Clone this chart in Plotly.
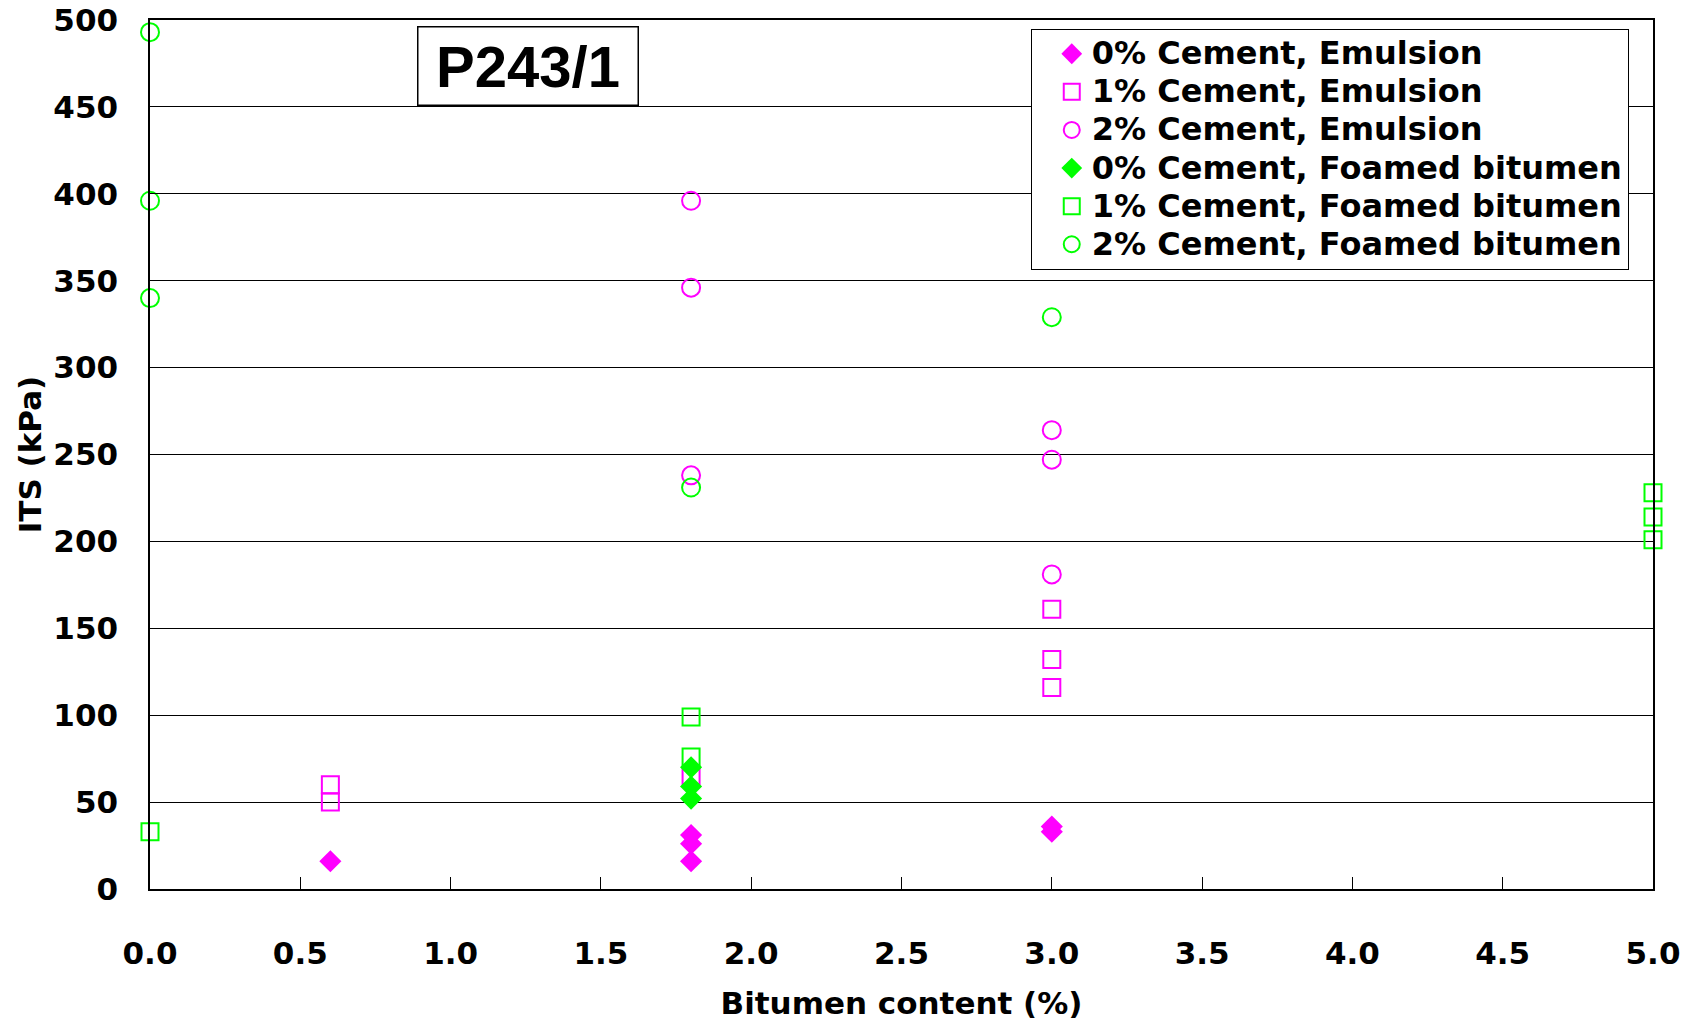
import plotly.graph_objects as go

# ---- data ----
emul0_x = [0.6, 1.8, 1.8, 1.8, 3.0, 3.0]
emul0_y = [16, 31, 26, 16, 36, 33]
emul1_x = [0.6, 0.6, 1.8, 3.0, 3.0, 3.0]
emul1_y = [60, 50, 65, 161, 132, 116]
emul2_x = [1.8, 1.8, 1.8, 3.0, 3.0, 3.0]
emul2_y = [396, 346, 238, 264, 247, 181]
foam0_x = [1.8, 1.8, 1.8]
foam0_y = [70, 59, 52]
foam1_x = [0.0, 1.8, 1.8, 5.0, 5.0, 5.0]
foam1_y = [33, 99, 76, 228, 214, 201]
foam2_x = [0.0, 0.0, 0.0, 1.8, 3.0]
foam2_y = [493, 396, 340, 231, 329]

names = ["0% Cement, Emulsion", "1% Cement, Emulsion", "2% Cement, Emulsion",
         "0% Cement, Foamed bitumen", "1% Cement, Foamed bitumen", "2% Cement, Foamed bitumen"]
xs = [emul0_x, emul1_x, emul2_x, foam0_x, foam1_x, foam2_x]
ys = [emul0_y, emul1_y, emul2_y, foam0_y, foam1_y, foam2_y]

MAG = "#FF00FF"
GRN = "#00FF00"
styles = [
    dict(symbol="diamond", color=MAG, size=17, line=dict(width=0, color=MAG)),
    dict(symbol="square-open", color=MAG, size=17, line=dict(width=2, color=MAG)),
    dict(symbol="circle-open", color=MAG, size=18, line=dict(width=2, color=MAG)),
    dict(symbol="diamond", color=GRN, size=17, line=dict(width=0, color=GRN)),
    dict(symbol="square-open", color=GRN, size=17, line=dict(width=2, color=GRN)),
    dict(symbol="circle-open", color=GRN, size=18, line=dict(width=2, color=GRN)),
]

fig = go.Figure()
for n, x, y, s in zip(names, xs, ys, styles):
    fig.add_trace(go.Scatter(
        x=x, y=y, mode="markers",
        name='<span style="font-size:32px">' + n + "</span>",
        marker=s, cliponaxis=False))

FONT = "DejaVu Sans, Liberation Sans, Arial, sans-serif"
TFONT = "Liberation Sans, Arial, sans-serif"

fig.update_layout(
    width=1696, height=1023,
    margin=dict(l=150, r=43, t=20, b=134, autoexpand=False),
    paper_bgcolor="white", plot_bgcolor="white",
    font=dict(family=FONT, size=31, color="black", weight="bold"),
    showlegend=True,
    legend=dict(
        x=0.586, y=0.99, xanchor="left", yanchor="top",
        bgcolor="white", bordercolor="black", borderwidth=1,
        font=dict(family=FONT, size=27, color="black", weight="bold"),
        tracegroupgap=0, itemsizing="trace", indentation=20,
    ),
    xaxis=dict(
        range=[0, 5], dtick=0.5, tick0=0, tickformat=".1f", automargin=False,
        showgrid=False, zeroline=False,
        showline=True, linecolor="black", linewidth=1.5, mirror=True,
        ticks="inside", ticklen=12, tickcolor="black", tickwidth=1,
        ticklabelstandoff=36,
        tickfont=dict(family=FONT, size=31, weight="bold"),
        title=dict(text="Bitumen content (%)", standoff=22,
                   font=dict(family=FONT, size=31, weight="bold")),
    ),
    yaxis=dict(
        range=[0, 500.0001], dtick=50, tick0=0, automargin=False,
        showgrid=True, gridcolor="black", gridwidth=1, zeroline=False,
        showline=True, linecolor="black", linewidth=1.5, mirror=True,
        ticks="inside", ticklen=12, tickcolor="black", tickwidth=1,
        ticklabelstandoff=24, ticklabeloverflow="allow",
        tickfont=dict(family=FONT, size=31, weight="bold"),
        title=dict(text="ITS (kPa)", standoff=2,
                   font=dict(family=FONT, size=31, weight="bold")),
    ),
    annotations=[dict(
        text="\u2009P243/1\u2009", x=0.2515, y=0.947, xref="paper", yref="paper",
        xanchor="center", yanchor="middle", showarrow=False,
        font=dict(family=TFONT, size=58, color="black", weight="bold"),
        bgcolor="white", bordercolor="black", borderwidth=1.5, borderpad=6,
    )],
)

fig.write_html("out.html")
